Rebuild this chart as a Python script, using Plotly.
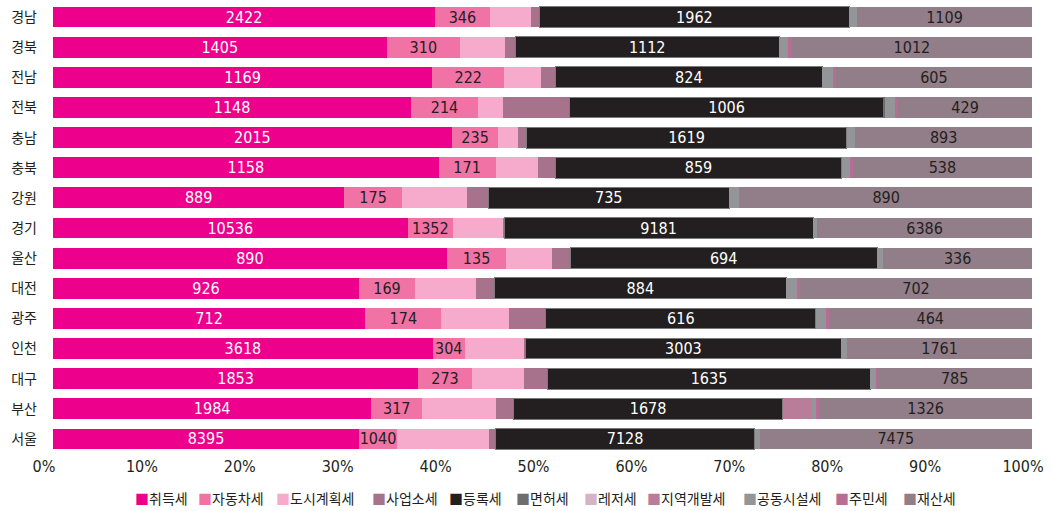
import plotly.graph_objects as go

regions = ['경남', '경북', '전남', '전북', '충남', '충북', '강원', '경기', '울산', '대전', '광주', '인천', '대구', '부산', '서울']

acquisition = [2422, 1405, 1169, 1148, 2015, 1158, 889, 10536, 890, 926, 712, 3618, 1853, 1984, 8395]
automobile = [346, 310, 222, 214, 235, 171, 175, 1352, 135, 169, 174, 304, 273, 317, 1040]
city_planning = [264, 189, 112, 80, 101, 127, 199, 1484, 102, 185, 155, 568, 264, 462, 2534]
business_office = [53, 43, 45, 214, 40, 53, 65, 33, 42, 55, 83, 14, 122, 107, 159]
registration = [1962, 1112, 824, 1006, 1619, 859, 735, 9181, 694, 884, 616, 3003, 1635, 1678, 7128]
license_tax = [0, 0, 0, 6, 0, 0, 0, 0, 0, 0, 0, 0, 0, 0, 0]
leisure = [0, 0, 0, 0, 0, 0, 0, 0, 0, 0, 0, 0, 0, 0, 0]
regional_dev = [0, 0, 0, 0, 0, 0, 0, 0, 0, 0, 0, 0, 0, 177, 0]
common_facility = [50, 36, 31, 30, 43, 24, 31, 119, 14, 31, 23, 58, 33, 29, 124]
resident = [0, 17, 10, 11, 0, 10, 3, 0, 0, 10, 6, 0, 4, 22, 0]
property_tax = [1109, 1012, 605, 429, 893, 538, 890, 6386, 336, 702, 464, 1761, 785, 1326, 7475]

tick_values = [0, 10, 20, 30, 40, 50, 60, 70, 80, 90, 100]
tick_labels = ['0%', '10%', '20%', '30%', '40%', '50%', '60%', '70%', '80%', '90%', '100%']

series = [
    ('취득세', acquisition, '#ec008c', True, '#ffffff'),
    ('자동차세', automobile, '#f173a6', True, '#231f20'),
    ('도시계획세', city_planning, '#f6abcd', False, None),
    ('사업소세', business_office, '#a6728c', False, None),
    ('등록세', registration, '#231f20', True, '#ffffff'),
    ('면허세', license_tax, '#6d6e70', False, None),
    ('레저세', leisure, '#d5b3c5', False, None),
    ('지역개발세', regional_dev, '#b97c99', False, None),
    ('공동시설세', common_facility, '#939598', False, None),
    ('주민세', resident, '#b86e94', False, None),
    ('재산세', property_tax, '#927e89', True, '#231f20'),
]

# legend entry left edges in pixels (layout only)
legend_px = [134, 197, 275, 371, 448, 515, 583, 646, 742, 834, 902]

num_font = 'DejaVu Sans Condensed, Liberation Sans Narrow, sans-serif'
kr_font = 'Noto Sans CJK KR, sans-serif'

W, H = 1052, 511
ML, MR, MT, MB = 53, 20, 2, 57
PW = W - ML - MR
PH = H - MT - MB

fig = go.Figure()
annotations = []
for (name, vals, color, labeled, tcolor), lx in zip(series, legend_px):
    kw = {}
    if labeled:
        kw = dict(
            text=[str(v) for v in vals],
            textposition='inside',
            insidetextanchor='middle',
            textangle=0,
            constraintext='none',
            textfont=dict(family=num_font, size=16, color=tcolor),
        )
    line = dict(color='#7a7a7a', width=1) if name == '등록세' else dict(width=0)
    fig.add_trace(go.Bar(
        y=regions, x=vals, name=name, orientation='h',
        marker=dict(color=color, line=line),
        hoverinfo='skip', showlegend=False,
        **kw,
    ))
    annotations.append(dict(
        xref='paper', yref='paper',
        x=(lx - ML) / PW, y=(PH - (498 - MT)) / PH,
        xanchor='left', yanchor='middle', showarrow=False,
        text=f'<span style="color:{color}">■</span>{name}',
        font=dict(family=kr_font, size=14, color='#231f20'),
        borderpad=0,
    ))

fig.update_layout(
    width=W, height=H,
    barmode='stack', barnorm='percent', bargap=0.31,
    paper_bgcolor='white', plot_bgcolor='white',
    margin=dict(l=ML, r=MR, t=MT, b=MB, autoexpand=False),
    showlegend=False,
    annotations=annotations,
    xaxis=dict(
        range=[0, 100], tickmode='array', tickvals=tick_values, ticktext=tick_labels,
        showgrid=False, zeroline=False, showline=False,
        tickfont=dict(family=num_font, size=16, color='#231f20'),
        ticks='', ticklabelstandoff=1, automargin=False,
        ticklabeloverflow='allow', ticklabelshift=-9,
    ),
    yaxis=dict(
        categoryorder='array', categoryarray=regions, autorange='reversed',
        showgrid=False, zeroline=False, showline=False, ticks='',
        tickfont=dict(family=kr_font, size=14, color='#231f20'),
        ticklabelstandoff=15, automargin=False,
    ),
)

fig.write_html('out.html', config={'displayModeBar': False},
               post_script="document.body.style.margin='0';")
